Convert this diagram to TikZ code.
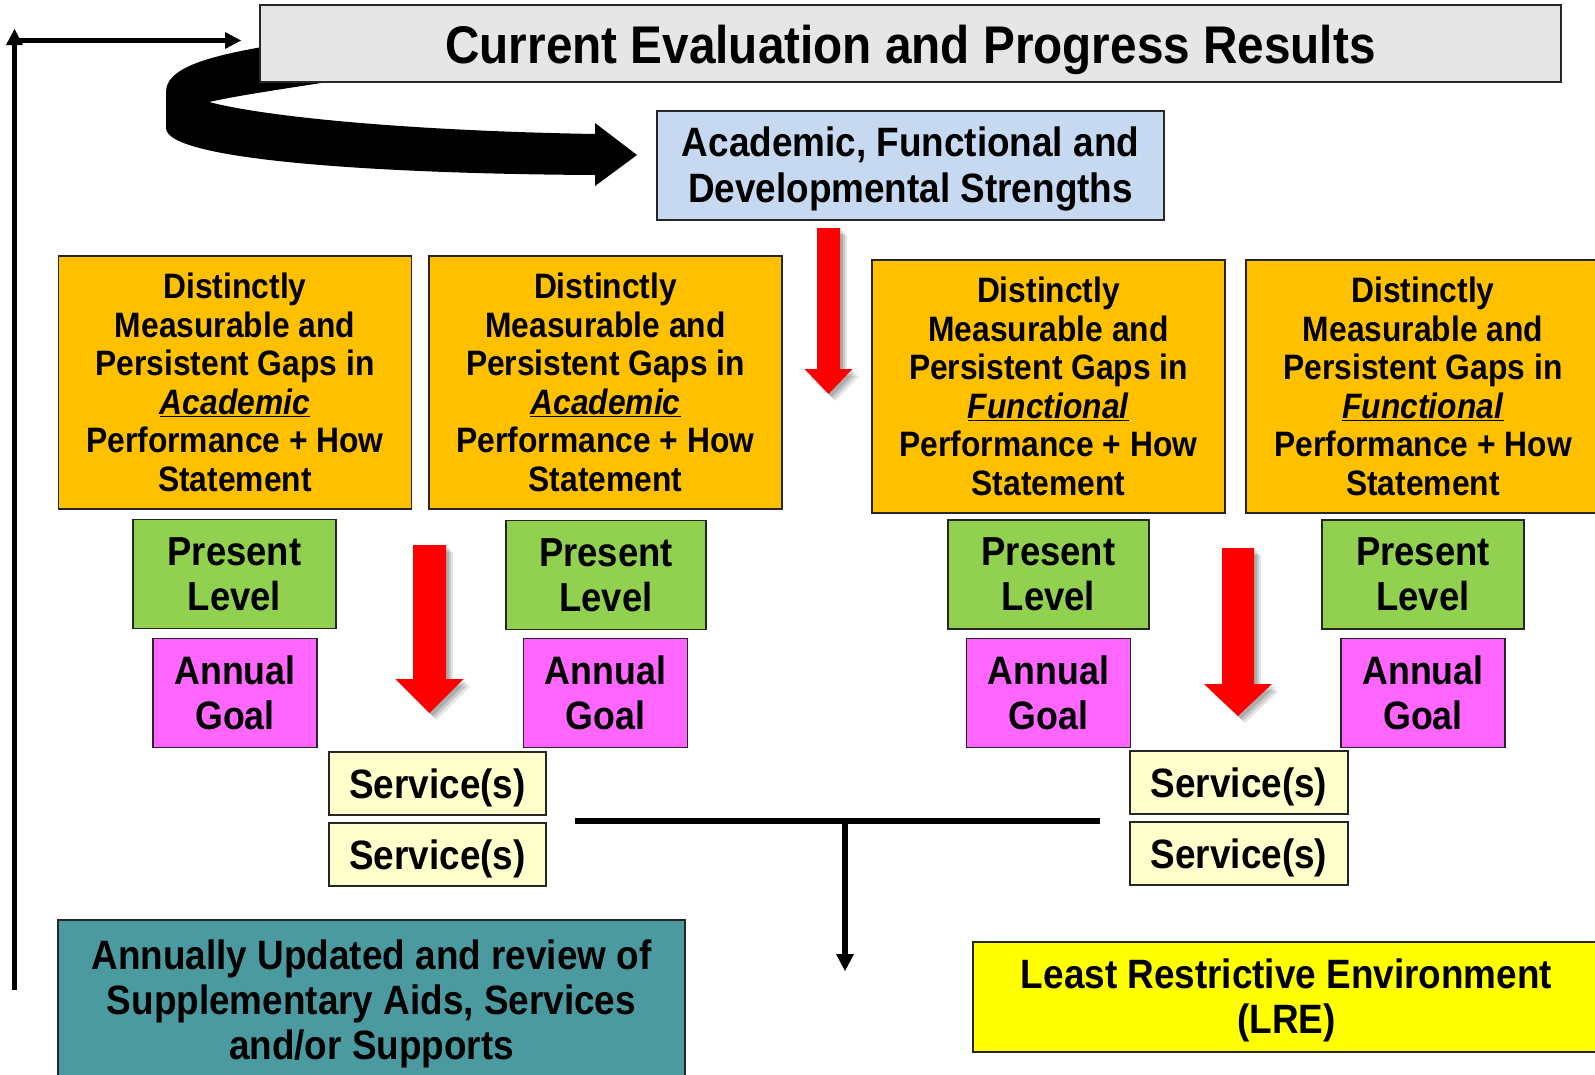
\documentclass[tikz,border=0pt]{standalone}
\usepackage{fontspec}
\setmainfont{Liberation Sans}[FakeStretch=0.9]
\usetikzlibrary{arrows.meta}
\definecolor{titlegray}{HTML}{E6E6E6}
\definecolor{strengthblue}{HTML}{C6D9F0}
\definecolor{gaporange}{HTML}{FFC000}
\definecolor{levelgreen}{HTML}{92D050}
\definecolor{goalmagenta}{HTML}{FF66FF}
\definecolor{servicecream}{HTML}{FFFFCC}
\definecolor{suppteal}{HTML}{4A9AA0}
\definecolor{lreyellow}{HTML}{FFFF00}
\definecolor{arrowred}{HTML}{FF0000}
\newcommand{\fsz}[2]{\fontsize{#1}{#2}\selectfont\bfseries}
\newcommand{\uit}[1]{\underline{\textit{#1}}}
% down block arrow: centre x, top y, half shaft, head base y, half head, tip y
\newcommand{\arrowshape}[6]{({#1-#3},{#2}) -- ({#1+#3},{#2}) -- ({#1+#3},{#4}) -- ({#1+#5},{#4}) -- ({#1},{#6}) -- ({#1-#5},{#4}) -- ({#1-#3},{#4}) -- cycle}
\newcommand{\dnarrow}[6]{%
  \fill[black,opacity=0.10,shift={(7,7)}] \arrowshape{#1}{#2}{#3}{#4}{#5}{#6};
  \fill[black,opacity=0.12,shift={(5,5)}] \arrowshape{#1}{#2}{#3}{#4}{#5}{#6};
  \fill[black,opacity=0.14,shift={(3,3)}] \arrowshape{#1}{#2}{#3}{#4}{#5}{#6};
  \fill[arrowred] \arrowshape{#1}{#2}{#3}{#4}{#5}{#6};
}
\begin{document}
\begin{tikzpicture}[x=1pt,y=-1pt,
  box/.style={draw=black!85, line width=1.8pt, inner sep=0pt, align=center, text=black, anchor=center},
  txt/.style={inner sep=0pt, align=center, text=black},
  titlebox/.style={box, fill=titlegray},
  strbox/.style={box, fill=strengthblue},
  gapbox/.style={box, fill=gaporange, font=\fsz{35.3}{38.5}, minimum height=253, minimum width=353},
  levelbox/.style={box, fill=levelgreen, font=\fsz{40.5}{45}, minimum height=109, minimum width=201},
  goalbox/.style={box, fill=goalmagenta, font=\fsz{39.7}{45}, minimum height=109, minimum width=164},
  servbox/.style={box, fill=servicecream, minimum height=63, minimum width=217},
  suppbox/.style={box, fill=suppteal},
  lrebox/.style={box, fill=lreyellow},
  connline/.style={draw=black, line width=5.5pt},
  headtri/.style={fill=black}
]
\useasboundingbox[fill=white] (0,0) rectangle (1595,1074);

% big curved black arrow (behind title)
\fill[black] (262,47) .. controls (200,58) and (166,70) .. (166,92) -- (166,128)
  .. controls (166,162) and (400,174) .. (595,175) -- (595,186) -- (637,155) -- (595,123) -- (595,134)
  .. controls (420,131) and (270,118) .. (209,102)
  .. controls (240,95) and (290,88) .. (340,80) -- (340,50) -- cycle;

% title
\node[titlebox, minimum width=1301, minimum height=77,
  label={[txt, yshift=-6pt, font=\fsz{53}{60}]center:Current Evaluation and Progress Results}] (title) at (910.5,43.5) {};

% strengths
\node[strbox, minimum width=507, minimum height=109,
  label={[txt, yshift=-3.5pt, font=\fsz{41}{46}]center:Academic, Functional and\\Developmental Strengths}] (str) at (910.5,165.5) {};

% gap boxes
\node[gapbox] (gap1) at (235,382.5) {Distinctly\\Measurable and\\Persistent Gaps in\\\uit{Academic}\\Performance + How\\Statement};
\node[gapbox] (gap2) at (605.5,382.5) {Distinctly\\Measurable and\\Persistent Gaps in\\\uit{Academic}\\Performance + How\\Statement};
\node[gapbox] (gap3) at (1048.5,386.5) {Distinctly\\Measurable and\\Persistent Gaps in\\\uit{Functional}\\Performance + How\\Statement};
\node[gapbox, minimum width=354] (gap4) at (1423,386.5) {Distinctly\\Measurable and\\Persistent Gaps in\\\uit{Functional}\\Performance + How\\Statement};

% present level
\node[levelbox, minimum width=203] (lvl1) at (234.5,574) {Present\\Level};
\node[levelbox, minimum width=200] (lvl2) at (606,575) {Present\\Level};
\node[levelbox] (lvl3) at (1048.5,574.5) {Present\\Level};
\node[levelbox, minimum width=202] (lvl4) at (1423,574.5) {Present\\Level};

% annual goals
\node[goalbox] (goal1) at (235,693) {Annual\\Goal};
\node[goalbox] (goal2) at (605.5,693) {Annual\\Goal};
\node[goalbox] (goal3) at (1048.5,693) {Annual\\Goal};
\node[goalbox] (goal4) at (1423,693) {Annual\\Goal};

% services
\tikzset{svclabel/.style={label={[txt, yshift=-4pt, font=\fsz{41}{46}]center:Service(s)}}}
\node[servbox, svclabel] (svc1) at (437.5,783.5) {};
\node[servbox, svclabel] (svc2) at (437.5,854.5) {};
\node[servbox, svclabel, minimum width=218] (svc3) at (1239,782.5) {};
\node[servbox, svclabel, minimum width=218] (svc4) at (1239,853.5) {};

% bottom boxes
\node[suppbox, minimum width=627, minimum height=160,
  label={[txt, yshift=-4pt, font=\fsz{41}{45}]center:Annually Updated and review of\\Supplementary Aids, Services\\and/or Supports}] (supp) at (371.5,1000) {};
\node[lrebox, minimum width=627, minimum height=110,
  label={[txt, yshift=-3pt, font=\fsz{41}{45}]center:Least Restrictive Environment\\(LRE)}] (lre) at (1286.5,997) {};

% red block arrows
\dnarrow{828.5}{228}{11.5}{369}{24}{394}
\dnarrow{429.5}{545}{16.5}{679}{34}{713}
\dnarrow{1238}{548}{16}{684}{34}{716}

% T junction
\coordinate (tl) at (575,821);
\coordinate (tr) at (1100,821);
\coordinate (tm) at (845,821);
\coordinate (tend) at (845,971);
\draw[connline] (tl) -- (tr);
\draw[connline] (tm) -- ([yshift=12pt]tend);
\fill[headtri] ([shift={(-9,-17)}]tend) -- (tend) -- ([shift={(9,-17)}]tend) -- cycle;

% feedback arrow on the left
\coordinate (fbot) at (14.5,990);
\coordinate (ftop) at (14.5,29);
\coordinate (fcorner) at (12,40.5);
\coordinate (fend) at (241,40.5);
\draw[connline] (fbot) -- ([yshift=-12pt]ftop);
\fill[headtri] ([shift={(-8.5,16)}]ftop) -- (ftop) -- ([shift={(8.5,16)}]ftop) -- cycle;
\draw[connline] (fcorner) -- ([xshift=-12pt]fend);
\fill[headtri] ([shift={(-16,-8.5)}]fend) -- (fend) -- ([shift={(-16,8.5)}]fend) -- cycle;
\end{tikzpicture}
\end{document}
